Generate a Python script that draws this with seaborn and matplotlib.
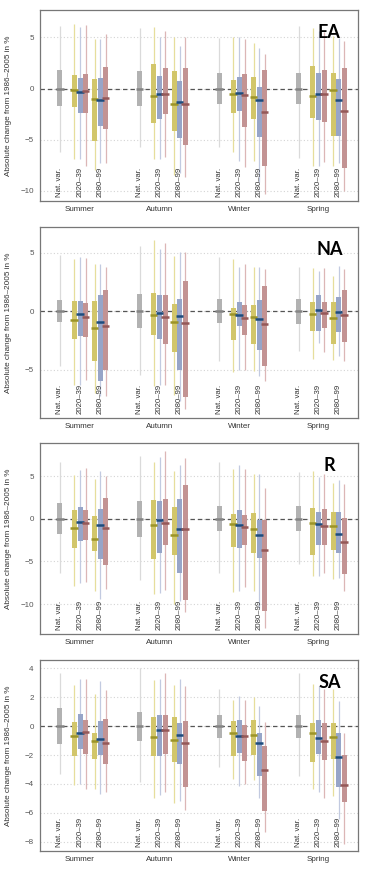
import seaborn as sns
import matplotlib.pyplot as plt

# value ranges per box
# order inside a season: Nat. var., 2020-39 (yellow, blue, red), 2080-99 (yellow, blue, red)
seasons = ['Summer', 'Autumn', 'Winter', 'Spring']
regions = ['EA', 'NA', 'R', 'SA']

ea_lo = [[-6.2, -6.9, -6.9, -7.55, -8.0, -7.3, -7.3],
         [-5.75, -6.85, -6.85, -6.7, -8.5, -8.3, -8.65],
         [-5.75, -6.2, -7.1, -7.65, -7.1, -9.15, -10.3],
         [-6.75, -7.6, -7.6, -7.15, -7.6, -7.3, -10.0]]
ea_q1 = [[-1.74, -1.8, -2.4, -2.4, -5.1, -3.65, -4.0],
         [-1.75, -3.4, -2.95, -2.5, -4.15, -4.8, -5.55],
         [-1.5, -2.4, -2.15, -3.8, -2.95, -4.7, -7.6],
         [-1.5, -2.9, -3.05, -3.3, -4.65, -4.65, -7.75]]
ea_med = [[0, -0.15, -0.35, -0.2, -1.0, -1.1, -0.9],
          [0, -0.7, -0.5, -0.55, -1.5, -1.3, -1.5],
          [0, -0.5, -0.45, -0.6, -0.8, -1.15, -2.25],
          [0, -0.75, -0.5, -0.5, -0.1, -1.15, -2.15]]
ea_q3 = [[1.78, 1.35, 1.05, 1.45, 0.9, 1.0, 2.1],
         [1.7, 2.45, 1.2, 2.05, 1.7, 0.7, 2.05],
         [1.5, 0.85, 1.1, 1.4, 1.15, 0.2, 1.8],
         [1.5, 2.25, 1.5, 1.8, 1.5, 0.9, 2.0]]
ea_hi = [[6.15, 6.3, 6.0, 6.2, 4.8, 4.8, 5.3],
         [5.9, 6.0, 5.05, 5.65, 5.0, 4.2, 5.0],
         [4.9, 5.05, 5.0, 4.85, 4.5, 4.0, 3.4],
         [6.15, 5.9, 5.65, 5.5, 5.15, 4.9, 4.65]]

na_lo = [[-4.65, -6.25, -6.25, -5.9, -7.0, -7.2, -7.2],
         [-5.45, -6.4, -6.3, -6.3, -7.1, -7.65, -8.35],
         [-4.25, -5.15, -5.0, -5.05, -5.1, -5.55, -5.95],
         [-3.35, -4.05, -2.7, -3.45, -4.15, -3.85, -4.2]]
na_q1 = [[-0.95, -2.4, -2.15, -2.2, -4.2, -5.95, -5.0],
         [-1.4, -2.0, -2.35, -2.75, -3.5, -5.0, -7.3],
         [-1.0, -2.45, -1.25, -2.0, -2.8, -3.3, -4.65],
         [-1.05, -1.65, -1.65, -1.4, -2.75, -1.75, -2.6]]
na_med = [[0, -0.75, -0.2, -0.5, -1.4, -0.9, -1.25],
          [0, -0.35, -0.15, -0.5, -0.95, -0.4, -1.0],
          [0, -0.2, -0.3, -0.6, -0.5, -0.65, -1.05],
          [0, -0.2, 0.1, -0.15, -0.55, -0.1, -0.3]]
na_q3 = [[1.0, 0.85, 0.9, 0.7, 0.85, 1.35, 1.8],
         [1.5, 1.55, 1.35, 1.35, 0.65, 1.05, 2.6],
         [1.05, 0.3, 0.8, 0.55, 0.5, 1.0, 2.15],
         [1.05, 0.8, 1.35, 0.8, 0.8, 1.25, 1.8]]
na_hi = [[4.8, 4.45, 4.65, 4.55, 4.0, 4.05, 3.8],
         [5.55, 6.05, 5.35, 5.8, 4.7, 5.05, 5.05],
         [4.65, 4.45, 3.8, 4.05, 3.75, 3.8, 3.6],
         [3.75, 3.65, 3.45, 3.65, 3.0, 3.9, 3.6]]

r_lo = [[-6.3, -7.85, -7.5, -7.4, -8.45, -9.4, -8.2],
        [-7.15, -8.85, -8.75, -8.35, -10.0, -9.6, -10.9],
        [-6.3, -8.55, -8.45, -8.05, -8.45, -10.5, -12.8],
        [-5.35, -6.7, -6.7, -6.3, -7.1, -6.9, -8.45]]
r_q1 = [[-1.8, -3.45, -2.65, -2.45, -3.8, -4.75, -5.4],
        [-2.1, -4.75, -4.0, -3.05, -4.3, -6.4, -9.5],
        [-1.45, -3.3, -3.4, -3.1, -4.05, -4.65, -10.8],
        [-1.45, -4.3, -3.1, -3.1, -3.7, -4.0, -6.5]]
r_med = [[0, -1.1, -0.4, -0.55, -2.4, -0.75, -1.1],
         [0, -0.7, -0.1, -0.55, -1.9, -1.2, -1.2],
         [0, -0.6, -0.7, -1.0, -1.25, -1.9, -3.6],
         [0, -0.45, -0.6, -0.8, -0.9, -1.75, -2.75]]
r_q3 = [[1.8, 1.05, 1.35, 1.05, 0.3, 1.2, 2.4],
        [2.1, 2.15, 2.1, 2.3, 1.35, 2.35, 3.95],
        [1.45, 0.55, 1.0, 0.45, 0.65, -0.1, -0.1],
        [1.45, 1.3, 0.8, 1.2, 0.75, 0.75, 0.05]]
r_hi = [[6.6, 5.1, 5.7, 6.0, 4.7, 5.6, 5.05],
        [7.3, 6.6, 7.25, 7.95, 5.6, 6.35, 7.15],
        [6.6, 5.8, 6.35, 5.8, 5.3, 5.3, 3.55],
        [5.5, 5.6, 4.9, 5.25, 4.2, 4.55, 4.05]]

sa_lo = [[-3.3, -4.1, -4.0, -4.35, -4.35, -4.7, -4.55],
         [-3.9, -5.0, -4.8, -4.55, -5.3, -5.2, -5.8],
         [-2.8, -3.65, -4.15, -4.0, -3.7, -5.0, -7.35],
         [-3.45, -4.35, -4.55, -4.95, -4.85, -6.4, -8.15]]
sa_q1 = [[-1.25, -2.1, -1.55, -1.95, -2.25, -2.0, -2.6],
         [-1.0, -2.05, -2.05, -1.95, -2.45, -2.6, -4.25],
         [-0.8, -2.1, -1.85, -2.4, -2.0, -3.45, -5.85],
         [-0.8, -2.5, -1.95, -2.35, -2.3, -4.25, -5.25]]
sa_med = [[0, -0.7, -0.5, -0.4, -1.0, -0.9, -1.2],
          [0, -0.75, -0.25, -0.25, -0.95, -0.6, -1.2],
          [0, -0.45, -0.65, -0.7, -0.6, -1.15, -3.05],
          [0, -0.45, -0.85, -1.0, -0.75, -2.15, -4.05]]
sa_q3 = [[1.25, 0.3, 0.85, 0.4, -0.5, 0.35, 0.5],
         [0.95, 0.6, 0.8, 0.8, 0.6, 0.2, 0.35],
         [0.8, 0.35, 0.4, 0.05, 0.4, -0.5, -1.4],
         [0.8, 0.25, 0.4, 0.25, 0.25, -0.45, -2.0]]
sa_hi = [[3.65, 2.85, 3.3, 3.3, 2.2, 3.1, 2.5],
         [4.0, 3.2, 3.3, 3.65, 2.85, 3.3, 2.75],
         [2.6, 1.8, 2.1, 1.8, 2.05, 1.4, 0.3],
         [3.65, 2.95, 2.8, 2.55, 2.6, 1.75, -0.45]]

panel_data = {
    'EA': (ea_lo, ea_q1, ea_med, ea_q3, ea_hi),
    'NA': (na_lo, na_q1, na_med, na_q3, na_hi),
    'R': (r_lo, r_q1, r_med, r_q3, r_hi),
    'SA': (sa_lo, sa_q1, sa_med, sa_q3, sa_hi),
}
ylims = {'EA': (-11, 7.7), 'NA': (-9.1, 7.2), 'R': (-13.5, 8.9), 'SA': (-8.65, 4.6)}
yticks = {'EA': [5, 0, -5, -10], 'NA': [5, 0, -5], 'R': [5, 0, -5, -10],
          'SA': [4, 2, 0, -2, -4, -6, -8]}

# box / whisker / median colours for nat, yellow, blue, red
box_col = ['#b2b2b2', '#d2c66a', '#97a5c8', '#c39393']
wh_col = ['#dadada', '#e6de9c', '#c2cae0', '#dcb6b6']
med_col = ['#858585', '#9c9428', '#1d4c7e', '#955858']
kind = [0, 1, 2, 3, 1, 2, 3]

season_x = [20, 99.5, 179, 258.5]
offs = [0, 14, 20, 25.5, 34.5, 40, 45.5]

sns.set_style('white')
plt.rcParams['font.family'] = ['Liberation Sans', 'DejaVu Sans']

fig = plt.figure(figsize=(3.69, 8.71), dpi=100)
bottoms = [0.7692, 0.5201, 0.2721, 0.0230]

for reg, b in zip(regions, bottoms):
    ax = fig.add_axes([0.1084, b, 0.8618, 0.2195])
    lo, q1, med, q3, hi = panel_data[reg]
    ax.axhline(0, color='#555555', lw=0.9, ls=(0, (3.5, 2.5)), zorder=1.5)
    for s in range(4):
        for k in range(7):
            x = season_x[s] + offs[k]
            c = kind[k]
            ax.vlines(x, lo[s][k], hi[s][k], color=wh_col[c], lw=0.9, zorder=2)
            ax.bar(x, q3[s][k] - q1[s][k], bottom=q1[s][k], width=5,
                   color=box_col[c], lw=0, zorder=3)
            ax.hlines(med[s][k], x - 3.6, x + 3.6, color=med_col[c], lw=1.8, zorder=4)
        for dx, lab in zip([0, 20, 40], ['Nat. var.', '2020–39', '2080–99']):
            ax.text(season_x[s] + dx, 0.022, lab, rotation=90, ha='center', va='bottom',
                    fontsize=5.6, color='#333333', transform=ax.get_xaxis_transform(),
                    zorder=5)
    ax.set_xlim(0, 318)
    ax.set_ylim(*ylims[reg])
    ax.set_yticks(yticks[reg])
    ax.set_yticklabels([f'{t:d}'.replace('-', '−') for t in yticks[reg]])
    ax.set_xticks([sx + 20 for sx in season_x])
    ax.set_xticklabels(seasons)
    ax.tick_params(axis='x', length=0, pad=3.5, labelsize=5.8, labelcolor='#333333')
    ax.tick_params(axis='y', length=2.5, width=0.7, color='#777777', pad=2,
                   labelsize=5.8, labelcolor='#555555')
    ax.yaxis.grid(True, ls=(0, (1, 2)), color='#d4d4d4', lw=0.8)
    ax.set_axisbelow(True)
    for sp in ax.spines.values():
        sp.set_color('#777777')
        sp.set_linewidth(0.9)
    ax.set_ylabel('Absolute change from 1986–2005 in %', fontsize=5.9, color='#333333')
    ax.yaxis.set_label_coords(-0.088, 0.5)
    ax.text(0.91, 0.88, reg, transform=ax.transAxes, ha='center', va='center',
            fontsize=13, fontweight='bold', family=['Lato', 'DejaVu Sans'], color='black')

fig.savefig('out.png', dpi=100)
